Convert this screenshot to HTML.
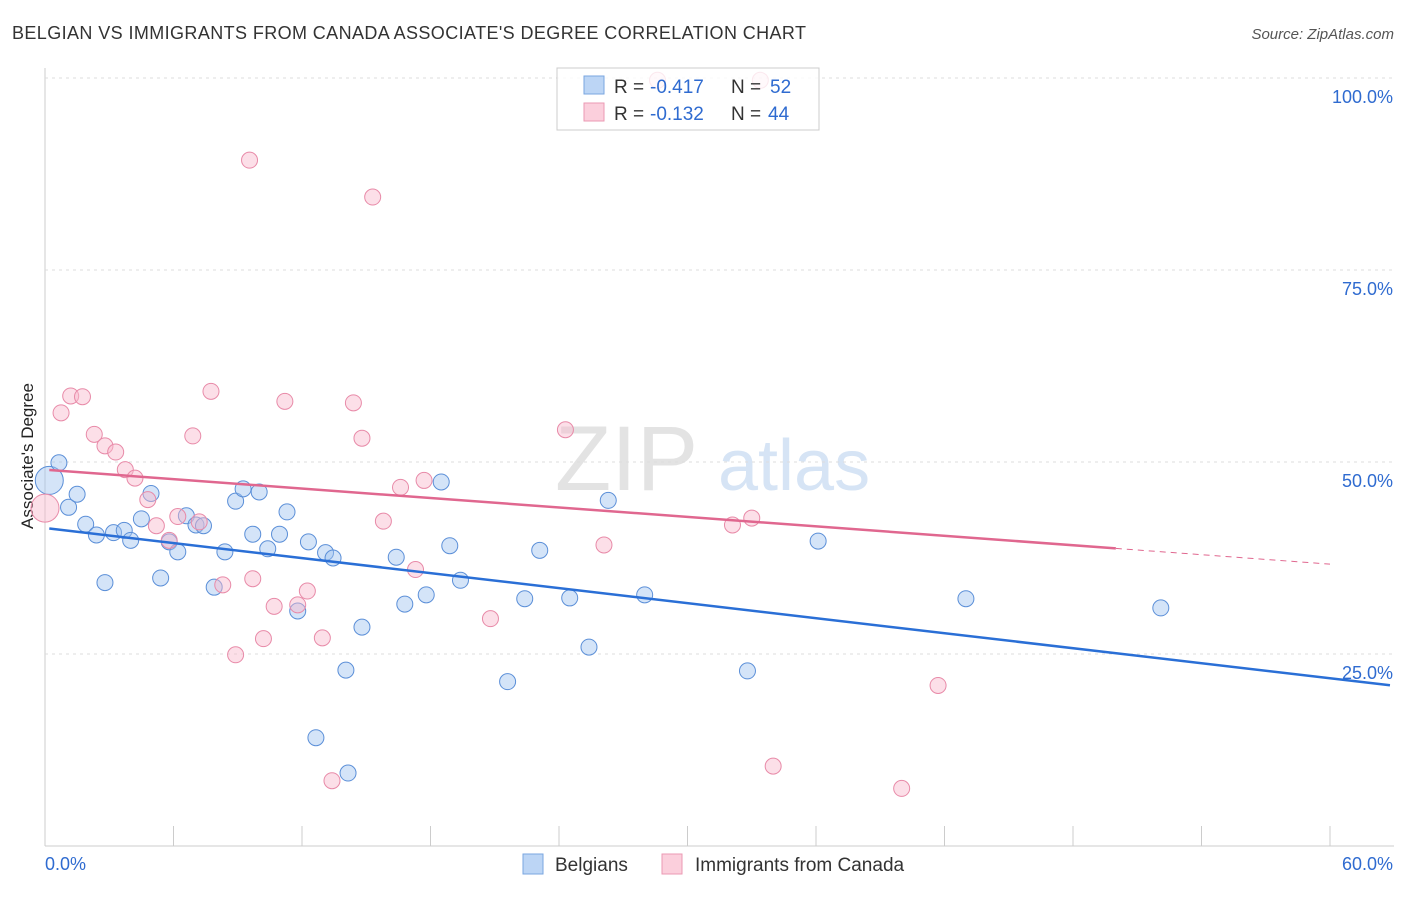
<!DOCTYPE html>
<html><head><meta charset="utf-8"><style>
body{margin:0;background:#fff;font-family:"Liberation Sans",sans-serif}
svg text{font-family:"Liberation Sans",sans-serif}
</style></head><body>
<svg id="c" width="1406" height="892" viewBox="0 0 1406 892">
<text x="12" y="39" font-size="18" fill="#333" textLength="794">BELGIAN VS IMMIGRANTS FROM CANADA ASSOCIATE'S DEGREE CORRELATION CHART</text>
<text x="1394" y="39" font-size="15" fill="#555" text-anchor="end" font-style="italic">Source: ZipAtlas.com</text>
<text x="33" y="456" font-size="17" fill="#222" text-anchor="middle" transform="rotate(-90 33 456)">Associate's Degree</text>
<text x="555" y="490" font-size="92" fill="#e3e3e3" font-family="Liberation Serif">ZIP</text>
<text x="718" y="490" font-size="72" fill="#d6e4f5">atlas</text>
<g id="grid"></g><g id="pts"></g><g id="lines"></g>
<g>
<rect x="557" y="68" width="262" height="62" fill="#fff" fill-opacity="0.8" stroke="#ccc"/>
<rect x="584" y="76" width="20" height="18" fill="#bcd5f5" stroke="#7aa6e0"/>
<rect x="584" y="103" width="20" height="18" fill="#fbcfdc" stroke="#eb9ab3"/>
<text x="614" y="93" font-size="19" fill="#333">R =</text>
<text x="650" y="93" font-size="19" fill="#2f6bd0">-0.417</text>
<text x="731" y="93" font-size="19" fill="#333">N =</text>
<text x="770" y="93" font-size="19" fill="#2f6bd0">52</text>
<text x="614" y="120" font-size="19" fill="#333">R =</text>
<text x="650" y="120" font-size="19" fill="#2f6bd0">-0.132</text>
<text x="731" y="120" font-size="19" fill="#333">N =</text>
<text x="768" y="120" font-size="19" fill="#2f6bd0">44</text>
</g>
<g>
<rect x="523" y="854" width="20" height="20" fill="#bcd5f5" stroke="#7aa6e0"/>
<text x="555" y="871" font-size="19" fill="#333">Belgians</text>
<rect x="662" y="854" width="20" height="20" fill="#fbcfdc" stroke="#eb9ab3"/>
<text x="695" y="871" font-size="19" fill="#333">Immigrants from Canada</text>
</g>
</svg>
<script>
const xTicks=[0,6,12,18,24,30,36,42,48,54,60];
const yTicks=[25,50,75,100];
const blueX=[0.2,0.65,1.1,1.5,1.9,2.4,2.8,3.2,3.7,4.0,4.5,4.95,5.4,5.8,6.2,6.6,7.05,7.4,7.9,8.4,8.9,9.25,9.7,10.0,10.4,10.95,11.3,11.8,12.3,13.1,13.45,14.05,12.65,14.15,14.8,16.4,16.8,17.8,18.5,18.9,19.4,21.6,22.4,23.1,24.5,25.4,26.3,28.0,32.8,36.1,43.0,52.1];
const blueY=[47.6,49.9,44.1,45.8,41.9,40.5,34.3,40.8,41.1,39.8,42.6,45.9,34.9,39.6,38.3,43.0,41.8,41.7,33.7,38.3,44.9,46.5,40.6,46.1,38.7,40.6,43.5,30.6,39.6,38.2,37.5,22.9,14.1,9.5,28.5,37.6,31.5,32.7,47.4,39.1,34.6,21.4,32.2,38.5,32.3,25.9,45.0,32.7,22.8,39.7,32.2,31.0];
const pinkX=[0,0.75,1.2,1.75,2.3,2.8,3.3,3.75,4.2,4.8,5.2,5.8,6.2,6.9,7.2,7.75,8.3,8.9,9.55,9.7,10.2,10.7,11.2,11.8,12.25,12.95,13.4,14.4,14.8,15.3,15.8,16.6,17.3,17.7,20.8,24.3,26.1,28.6,32.1,33.0,33.4,34.0,40.0,41.7];
const pinkY=[44.0,56.4,58.6,58.5,53.6,52.1,51.3,49.0,47.9,45.1,41.7,39.8,42.9,53.4,42.2,59.2,34.0,24.9,89.3,34.8,27.0,31.2,57.9,31.4,33.2,27.1,8.5,57.7,53.1,84.5,42.3,46.7,36.0,47.6,29.6,54.2,39.2,99.7,41.8,42.7,99.7,10.4,7.5,20.9];
const blueFit=[41.4,-0.326];
const pinkFit=[49.0,-0.205];
const X0=45,X1=1330,Y0=846,Y100=78;
const sx=v=>X0+(X1-X0)*v/60, sy=v=>Y0-(Y0-Y100)*v/100;
const NS='http://www.w3.org/2000/svg';
function mk(t,a,p){const e=document.createElementNS(NS,t);for(const k in a)e.setAttribute(k,a[k]);p.appendChild(e);return e;}
const g=document.getElementById('grid');
mk('line',{x1:X0,y1:68,x2:X0,y2:Y0,stroke:'#ccc'},g);
mk('line',{x1:X0,y1:Y0,x2:1394,y2:Y0,stroke:'#ccc'},g);
yTicks.forEach(t=>{const l=mk('line',{x1:X0,y1:sy(t),x2:1394,y2:sy(t),stroke:'#ddd','stroke-dasharray':'3,4'},g);

const tx=mk('text',{x:1393,y:sy(t)+25,'font-size':18,fill:'#2f6bd0','text-anchor':'end'},g);tx.textContent=t.toFixed(1)+'%';
});
xTicks.forEach(t=>{const l=mk('line',{x1:sx(t),y1:Y0-20,x2:sx(t),y2:Y0,stroke:'#ccc'},g);
});
[[0,'start',45],[60,'end',1393]].forEach(([v,a,x])=>{const tx=mk('text',{x:x,y:870,'font-size':18,fill:'#2f6bd0','text-anchor':a},g);tx.textContent=v.toFixed(1)+'%';
});
const p=document.getElementById('pts');
blueX.forEach((v,i)=>{const c=mk('circle',{cx:sx(v),cy:sy(blueY[i]),r:i==0?14:8,fill:'rgba(160,195,240,0.45)',stroke:'#5b8fd8','stroke-width':1},p);
});
pinkX.forEach((v,i)=>{const c=mk('circle',{cx:sx(v),cy:sy(pinkY[i]),r:i==0?14:8,fill:'rgba(248,185,205,0.45)',stroke:'#e88aa8','stroke-width':1},p);
});
const L=document.getElementById('lines');
let e=mk('line',{x1:sx(0.2),y1:sy(blueFit[0]+blueFit[1]*0.2),x2:sx(62.8),y2:sy(blueFit[0]+blueFit[1]*62.8),stroke:'#2a6fd6','stroke-width':2.5},L);

e=mk('line',{x1:sx(0.2),y1:sy(pinkFit[0]+pinkFit[1]*0.2),x2:sx(50),y2:sy(pinkFit[0]+pinkFit[1]*50),stroke:'#e0678f','stroke-width':2.5},L);

e=mk('line',{x1:sx(50),y1:sy(pinkFit[0]+pinkFit[1]*50),x2:sx(60),y2:sy(pinkFit[0]+pinkFit[1]*60),stroke:'#e0678f','stroke-width':1,'stroke-dasharray':'6,5'},L);

</script>
</body></html>
